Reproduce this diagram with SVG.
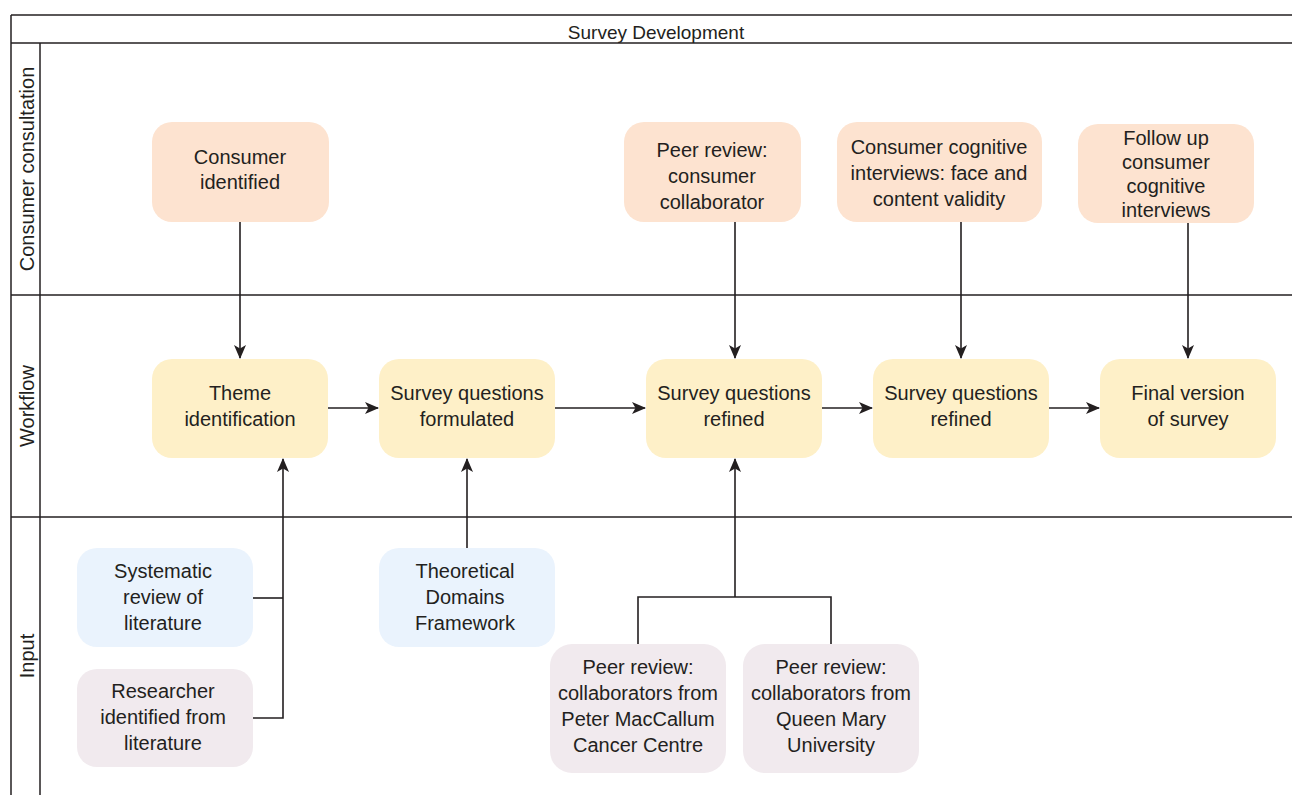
<svg xmlns="http://www.w3.org/2000/svg" width="1292" height="795" viewBox="0 0 1292 795">
<style>
.t{font-family:"Liberation Sans",Arial,sans-serif;font-size:20px;fill:#231f20;text-anchor:middle}
.frame{stroke:#231f20;stroke-width:1.5;fill:none}
.c{stroke:#231f20;stroke-width:1.6;fill:none}
.or{fill:#fde3d0}
.ye{fill:#fef0c8}
.bl{fill:#eaf3fd}
.pu{fill:#f1eaee}
</style>
<defs>
<marker id="ah" markerWidth="14" markerHeight="12" refX="13" refY="6" orient="auto" markerUnits="userSpaceOnUse">
<path d="M0,0 L14,6 L0,12 L3.5,6 Z" fill="#231f20"/>
</marker>
</defs>
<rect width="1292" height="795" fill="#ffffff"/>
<g id="frame">
<line class="frame" x1="11" y1="15" x2="1292" y2="15"/>
<line class="frame" x1="11" y1="43" x2="1292" y2="43"/>
<line class="frame" x1="11" y1="15" x2="11" y2="795"/>
<line class="frame" x1="40" y1="43" x2="40" y2="795"/>
<line class="frame" x1="11" y1="295" x2="1292" y2="295"/>
<line class="frame" x1="11" y1="517" x2="1292" y2="517"/>
<text class="t" x="656" y="39" style="font-size:19px">Survey Development</text>
<text class="t" transform="translate(34,169) rotate(-90)">Consumer consultation</text>
<text class="t" transform="translate(34,406) rotate(-90)">Workflow</text>
<text class="t" transform="translate(34,656) rotate(-90)">Input</text>
</g>
<g id="connectors">
<line class="c" x1="240" y1="222" x2="240" y2="358" marker-end="url(#ah)"/>
<line class="c" x1="735" y1="222" x2="735" y2="358" marker-end="url(#ah)"/>
<line class="c" x1="961" y1="222" x2="961" y2="358" marker-end="url(#ah)"/>
<line class="c" x1="1188" y1="223" x2="1188" y2="358" marker-end="url(#ah)"/>
<line class="c" x1="328" y1="408" x2="378" y2="408" marker-end="url(#ah)"/>
<line class="c" x1="555" y1="408" x2="645" y2="408" marker-end="url(#ah)"/>
<line class="c" x1="822" y1="408" x2="872" y2="408" marker-end="url(#ah)"/>
<line class="c" x1="1049" y1="408" x2="1099" y2="408" marker-end="url(#ah)"/>
<polyline class="c" points="253,598 283,598"/>
<polyline class="c" points="253,718 283,718 283,459" marker-end="url(#ah)"/>
<line class="c" x1="467" y1="548" x2="467" y2="459" marker-end="url(#ah)"/>
<polyline class="c" points="638,644 638,597 831,597 831,644"/>
<line class="c" x1="735" y1="597" x2="735" y2="459" marker-end="url(#ah)"/>
</g>
<g id="n-consumer-identified">
<rect class="or" x="152" y="122" width="177" height="100" rx="20"/>
<text class="t" x="240" y="164">Consumer</text>
<text class="t" x="240" y="189">identified</text>
</g>
<g id="n-peer-consumer">
<rect class="or" x="624" y="122" width="177" height="100" rx="20"/>
<text class="t" x="712" y="157">Peer review:</text>
<text class="t" x="712" y="183">consumer</text>
<text class="t" x="712" y="209">collaborator</text>
</g>
<g id="n-cognitive">
<rect class="or" x="837" y="122" width="205" height="100" rx="20"/>
<text class="t" x="939" y="154">Consumer cognitive</text>
<text class="t" x="939" y="180">interviews: face and</text>
<text class="t" x="939" y="206">content validity</text>
</g>
<g id="n-followup">
<rect class="or" x="1078" y="124" width="176" height="99" rx="20"/>
<text class="t" x="1166" y="145">Follow up</text>
<text class="t" x="1166" y="169">consumer</text>
<text class="t" x="1166" y="193">cognitive</text>
<text class="t" x="1166" y="217">interviews</text>
</g>
<g id="n-theme">
<rect class="ye" x="152" y="359" width="176" height="99" rx="20"/>
<text class="t" x="240" y="400">Theme</text>
<text class="t" x="240" y="426">identification</text>
</g>
<g id="n-formulated">
<rect class="ye" x="379" y="359" width="176" height="99" rx="20"/>
<text class="t" x="467" y="400">Survey questions</text>
<text class="t" x="467" y="426">formulated</text>
</g>
<g id="n-refined1">
<rect class="ye" x="646" y="359" width="176" height="99" rx="20"/>
<text class="t" x="734" y="400">Survey questions</text>
<text class="t" x="734" y="426">refined</text>
</g>
<g id="n-refined2">
<rect class="ye" x="873" y="359" width="176" height="99" rx="20"/>
<text class="t" x="961" y="400">Survey questions</text>
<text class="t" x="961" y="426">refined</text>
</g>
<g id="n-final">
<rect class="ye" x="1100" y="359" width="176" height="99" rx="20"/>
<text class="t" x="1188" y="400">Final version</text>
<text class="t" x="1188" y="426">of survey</text>
</g>
<g id="n-systematic">
<rect class="bl" x="77" y="548" width="176" height="99" rx="20"/>
<text class="t" x="163" y="578">Systematic</text>
<text class="t" x="163" y="604">review of</text>
<text class="t" x="163" y="630">literature</text>
</g>
<g id="n-researcher">
<rect class="pu" x="77" y="669" width="176" height="98" rx="20"/>
<text class="t" x="163" y="698">Researcher</text>
<text class="t" x="163" y="724">identified from</text>
<text class="t" x="163" y="750">literature</text>
</g>
<g id="n-tdf">
<rect class="bl" x="379" y="548" width="176" height="99" rx="20"/>
<text class="t" x="465" y="578">Theoretical</text>
<text class="t" x="465" y="604">Domains</text>
<text class="t" x="465" y="630">Framework</text>
</g>
<g id="n-petermac">
<rect class="pu" x="550" y="644" width="176" height="129" rx="22"/>
<text class="t" x="638" y="674">Peer review:</text>
<text class="t" x="638" y="700">collaborators from</text>
<text class="t" x="638" y="726">Peter MacCallum</text>
<text class="t" x="638" y="752">Cancer Centre</text>
</g>
<g id="n-queenmary">
<rect class="pu" x="743" y="644" width="176" height="129" rx="22"/>
<text class="t" x="831" y="674">Peer review:</text>
<text class="t" x="831" y="700">collaborators from</text>
<text class="t" x="831" y="726">Queen Mary</text>
<text class="t" x="831" y="752">University</text>
</g>
</svg>
